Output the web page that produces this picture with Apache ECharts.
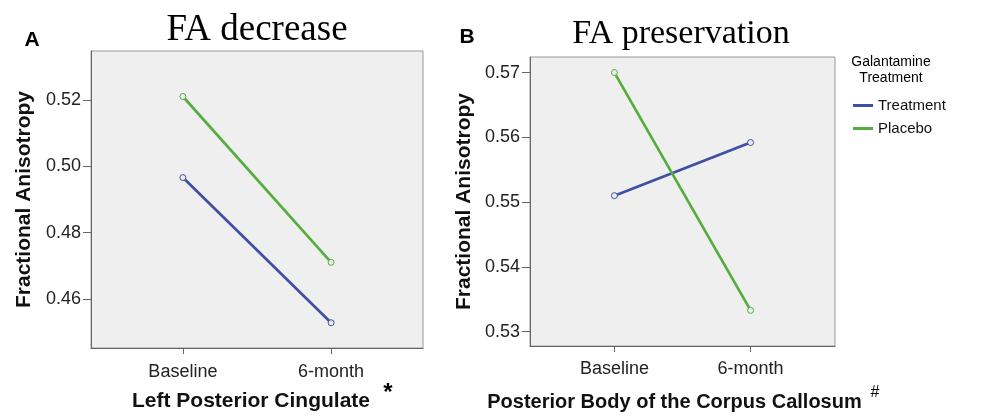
<!DOCTYPE html>
<html>
<head>
<meta charset="utf-8">
<script src="https://cdn.jsdelivr.net/npm/echarts@6/dist/echarts.min.js"></script>
<style>
html, body { margin: 0; padding: 0; background: #fff; }
#main { width: 991px; height: 417px; }
</style>
</head>
<body>
<div id="main"></div>
<script>
// data
var timepoints = ['Baseline', '6-month'];
var groups = ['Treatment', 'Placebo'];

var cingTreatment = [0.4966, 0.4529];
var cingPlacebo = [0.5210, 0.4711];
var cingTicks = [0.46, 0.48, 0.50, 0.52];

var callTreatment = [0.5510, 0.5592];
var callPlacebo = [0.5700, 0.5333];
var callTicks = [0.53, 0.54, 0.55, 0.56, 0.57];

var blue = '#3f4fa3';
var green = '#55ad3f';
var font = 'Liberation Sans, Arial, sans-serif';

function getID(id) {
    return document.getElementById(id);
}

function pairs(vals) {
    var out = [];
    for (var i = 0; i < vals.length; i++) {
        out.push([i, vals[i]]);
    }
    return out;
}

function xAxisCfg(idx, name, margin, gap, size, shift) {
    return {
        type: 'value', gridIndex: idx, min: -0.62, max: 1.62,
        name: name, nameLocation: 'middle', nameGap: gap,
        nameTextStyle: { fontFamily: font, fontWeight: 'bold', fontSize: size, color: '#111', padding: [0, shift, 0, 0] },
        axisLine: { onZero: false, lineStyle: { color: '#666', width: 1 } },
        axisTick: { show: true, customValues: [0, 1], length: 6, lineStyle: { color: '#666' } },
        axisLabel: {
            customValues: [0, 1], margin: margin, fontFamily: font, fontSize: 18, color: '#222',
            formatter: function (v) { return timepoints[Math.round(v)]; }
        },
        splitLine: { show: false }
    };
}

function yAxisCfg(idx, min, max, ticks, gap) {
    return {
        type: 'value', gridIndex: idx, min: min, max: max,
        name: 'Fractional Anisotropy', nameLocation: 'middle', nameGap: gap,
        nameTextStyle: { fontFamily: font, fontWeight: 'bold', fontSize: 21, color: '#111' },
        axisLine: { show: true, onZero: false, lineStyle: { color: '#666', width: 1 } },
        axisTick: { show: true, customValues: ticks, length: 8, lineStyle: { color: '#666' } },
        axisLabel: {
            customValues: ticks, margin: 10, fontFamily: font, fontSize: 18, color: '#222',
            formatter: function (v) { return v.toFixed(2); }
        },
        splitLine: { show: false }
    };
}

function lineSeries(name, color, xi, data) {
    return {
        name: name, type: 'line', xAxisIndex: xi, yAxisIndex: xi,
        data: pairs(data),
        symbol: 'circle', symbolSize: 6, showSymbol: true,
        lineStyle: { color: color, width: 2.7 },
        itemStyle: { color: '#e8eef0', borderColor: color, borderWidth: 1 },
        emphasis: { disabled: true }
    };
}

function txt(x, y, s, size, weight, family) {
    return {
        type: 'text', x: x, y: y,
        style: {
            text: s, fontSize: size, fontWeight: weight || 'normal',
            fontFamily: family || font, fill: '#000',
            align: 'center', verticalAlign: 'middle', lineHeight: size + 2
        }
    };
}

var myChart = echarts.init(getID('main'), null, { renderer: 'canvas' });

var option = {
    backgroundColor: '#fff',
    animation: false,
    grid: [
        { left: 91, top: 51, width: 332, height: 297, show: true, backgroundColor: '#efefef', borderColor: '#9a9a9a', borderWidth: 1 },
        { left: 530, top: 57, width: 305, height: 293, show: true, backgroundColor: '#efefef', borderColor: '#9a9a9a', borderWidth: 1 }
    ],
    xAxis: [
        xAxisCfg(0, 'Left Posterior Cingulate', 15, 43, 21, 12),
        xAxisCfg(1, 'Posterior Body of the Corpus Callosum', 14, 46, 20, 16)
    ],
    yAxis: [
        yAxisCfg(0, 0.4453, 0.5347, cingTicks, 56),
        yAxisCfg(1, 0.5278, 0.5724, callTicks, 55)
    ],
    legend: {
        orient: 'vertical', left: 848, top: 93, itemWidth: 20, itemHeight: 3, itemGap: 8,
        icon: 'rect',
        data: [
            { name: groups[0], itemStyle: { color: blue, borderWidth: 0 } },
            { name: groups[1], itemStyle: { color: green, borderWidth: 0 } }
        ],
        textStyle: { fontFamily: font, fontSize: 15, color: '#111' }
    },
    graphic: [
        txt(32, 40, 'A', 21, 'bold'),
        txt(467, 37, 'B', 21, 'bold'),
        txt(257, 30, 'FA decrease', 37, 'normal', 'Liberation Serif, Times New Roman, serif'),
        txt(681, 34, 'FA preservation', 34, 'normal', 'Liberation Serif, Times New Roman, serif'),
        txt(388, 393, '*', 24, 'bold'),
        txt(875, 393, '#', 16, 'normal'),
        txt(891, 70, 'Galantamine\nTreatment', 14, 'normal')
    ],
    series: [
        lineSeries('Treatment', blue, 0, cingTreatment),
        lineSeries('Placebo', green, 0, cingPlacebo),
        lineSeries('Treatment', blue, 1, callTreatment),
        lineSeries('Placebo', green, 1, callPlacebo)
    ]
};
myChart.setOption(option);
</script>
</body>
</html>
